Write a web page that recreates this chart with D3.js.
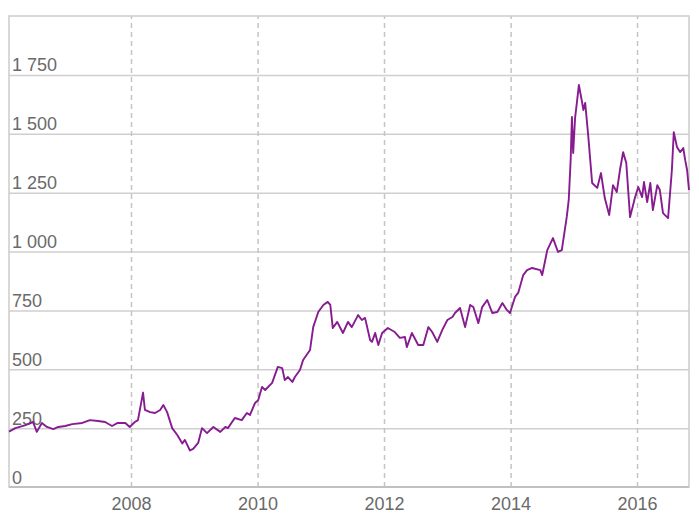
<!DOCTYPE html>
<html>
<head>
<meta charset="utf-8">
<script src="https://cdn.jsdelivr.net/npm/d3@7"></script>
<style>
  html, body { margin: 0; padding: 0; background: #fff; }
  svg { display: block; }
  text { font-family: "Liberation Sans", Arial, sans-serif; }
</style>
</head>
<body>
<svg id="chart" width="699" height="516"></svg>
<script>
// ---- data (decimal years, values) ----
const years = [
  2006.07, 2006.17, 2006.32, 2006.45, 2006.51, 2006.59, 2006.67, 2006.77, 2006.85, 2006.96,
  2007.07, 2007.23, 2007.35, 2007.48, 2007.59, 2007.70, 2007.79, 2007.91, 2007.98,
  2008.06, 2008.11, 2008.19, 2008.22, 2008.30, 2008.38, 2008.46, 2008.51, 2008.57, 2008.65,
  2008.73, 2008.81, 2008.85, 2008.93, 2008.98, 2009.06, 2009.12, 2009.20, 2009.30, 2009.41,
  2009.49, 2009.53, 2009.64, 2009.75, 2009.83, 2009.88, 2009.96, 2010.01, 2010.07, 2010.12,
  2010.23, 2010.32, 2010.39, 2010.43, 2010.48, 2010.55, 2010.59, 2010.67, 2010.72, 2010.83,
  2010.88, 2010.96, 2011.04, 2011.11, 2011.15, 2011.19, 2011.26, 2011.35, 2011.43, 2011.49,
  2011.59, 2011.65, 2011.70, 2011.78, 2011.81, 2011.86, 2011.91, 2011.97, 2012.06, 2012.17,
  2012.25, 2012.33, 2012.36, 2012.44, 2012.54, 2012.62, 2012.70, 2012.76, 2012.84, 2012.92,
  2013.00, 2013.08, 2013.12, 2013.20, 2013.28, 2013.36, 2013.41, 2013.49, 2013.55, 2013.63,
  2013.71, 2013.79, 2013.87, 2013.94, 2013.99, 2014.07, 2014.12, 2014.20, 2014.26, 2014.34,
  2014.47, 2014.50, 2014.58, 2014.67, 2014.75, 2014.81, 2014.89, 2014.92, 2014.95, 2014.97,
  2014.99, 2015.02, 2015.05, 2015.08, 2015.13, 2015.15, 2015.18, 2015.23, 2015.29, 2015.37,
  2015.43, 2015.49, 2015.56, 2015.62, 2015.68, 2015.73, 2015.78, 2015.83, 2015.89, 2015.97,
  2016.02, 2016.08, 2016.11, 2016.16, 2016.21, 2016.25, 2016.32, 2016.36, 2016.41, 2016.49,
  2016.55, 2016.58, 2016.63, 2016.68, 2016.73, 2016.76, 2016.79, 2016.82
];
const values = [
  235, 250, 262, 276, 234, 272, 255, 246, 255, 259,
  267, 272, 284, 280, 276, 259, 272, 272, 255,
  276, 284, 401, 327, 318, 314, 327, 348, 318, 250,
  221, 185, 200, 155, 162, 187, 250, 229, 255, 234,
  255, 250, 293, 284, 314, 306, 357, 369, 425, 412,
  442, 510, 505, 454, 467, 446, 467, 497, 539, 582,
  679, 743, 773, 786, 773, 675, 701, 654, 701, 679,
  730, 709, 718, 624, 616, 654, 603, 654, 675, 658,
  633, 637, 594, 654, 603, 603, 679, 658, 616, 667,
  709, 722, 739, 760, 679, 773, 764, 696, 764, 794,
  739, 743, 781, 752, 739, 807, 824, 900, 921, 930,
  921, 900, 1006, 1057, 998, 1006, 1150, 1220, 1388, 1571,
  1418, 1567, 1635, 1707, 1635, 1601, 1631, 1486, 1291, 1270,
  1333, 1227, 1155, 1282, 1253, 1346, 1422, 1376, 1146, 1231,
  1274, 1231, 1295, 1210, 1291, 1176, 1282, 1261, 1163, 1142,
  1346, 1507, 1444, 1422, 1439, 1388, 1346, 1261
];
const yTicks = [0, 250, 500, 750, 1000, 1250, 1500, 1750];
const xTickYears = [2008, 2010, 2012, 2014, 2016];
const yMax = 2000;

// ---- helpers ----
function yearToDate(v) {
  const y = Math.floor(v);
  const s = new Date(y, 0, 1), e = new Date(y + 1, 0, 1);
  return new Date(+s + (v - y) * (e - s));
}
const data = years.map((y, i) => ({ date: yearToDate(y), value: values[i] }));

const W = 699, H = 516;
const margin = { top: 16, right: 10, bottom: 29, left: 9 };
const iw = W - margin.left - margin.right;
const ih = H - margin.top - margin.bottom;

const svg = d3.select("#chart");
const g = svg.append("g").attr("transform", `translate(${margin.left},${margin.top})`);

const x = d3.scaleTime()
  .domain([yearToDate(years[0]), yearToDate(years[years.length - 1])])
  .range([0, iw]);
const y = d3.scaleLinear().domain([0, yMax]).range([ih, 0]);

const fmt = v => d3.format(",")(v).replace(/,/g, " ");

// horizontal gridlines + labels
const yAxis = g.append("g")
  .call(d3.axisLeft(y).tickValues(yTicks).tickSize(-iw).tickFormat(fmt));
yAxis.select(".domain").remove();
yAxis.selectAll(".tick line")
  .attr("stroke", "#cfcfcf").attr("stroke-width", 1.5)
  .attr("display", d => d === 0 ? "none" : null);
yAxis.selectAll(".tick text")
  .attr("x", 3).attr("y", -4).attr("dy", 0)
  .attr("text-anchor", "start")
  .attr("fill", "#6a6a6a")
  .style("font-size", "18px");

// vertical dashed gridlines + labels
const xAxis = g.append("g")
  .attr("transform", `translate(0,${ih})`)
  .call(d3.axisBottom(x)
    .tickValues(xTickYears.map(yv => new Date(yv, 0, 1)))
    .tickSize(-ih)
    .tickFormat(d3.timeFormat("%Y")));
xAxis.select(".domain").remove();
xAxis.selectAll(".tick line")
  .attr("stroke", "#c4c4c4").attr("stroke-width", 1.5)
  .attr("stroke-dasharray", "5,4");
xAxis.selectAll(".tick text")
  .attr("y", 10).attr("dy", "0.71em")
  .attr("fill", "#6a6a6a")
  .style("font-size", "18px");

// plot border
g.append("rect")
  .attr("x", 0).attr("y", 0).attr("width", iw).attr("height", ih)
  .attr("fill", "none").attr("stroke", "#cbcbcb").attr("stroke-width", 1.5);
g.append("line")
  .attr("x1", 0).attr("x2", iw).attr("y1", y(0)).attr("y2", y(0))
  .attr("stroke", "#c0c0c0").attr("stroke-width", 2);

// the series
const line = d3.line().x(d => x(d.date)).y(d => y(d.value));
g.append("path")
  .datum(data)
  .attr("fill", "none")
  .attr("stroke", "#861c90")
  .attr("stroke-width", 1.9)
  .attr("stroke-linejoin", "round")
  .attr("d", line);
</script>
</body>
</html>
